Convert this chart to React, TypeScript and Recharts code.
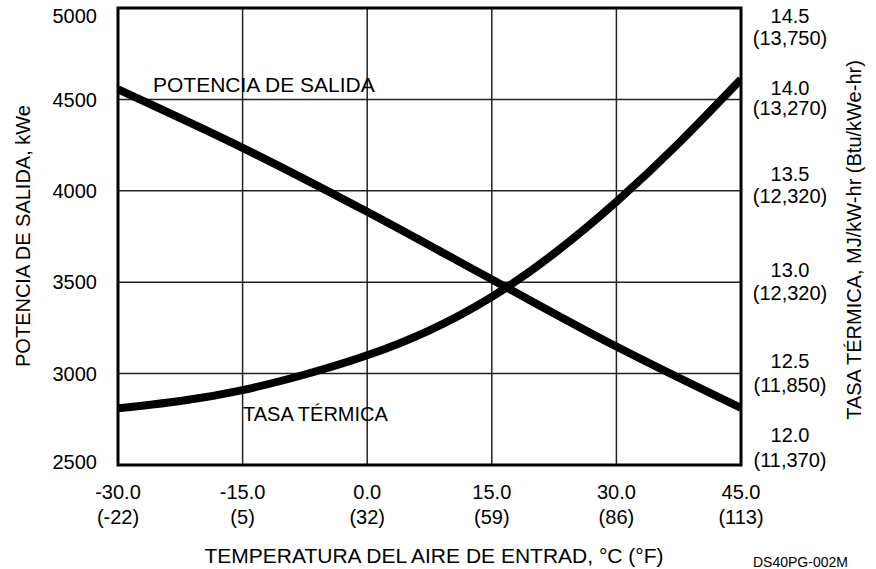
import { ComposedChart, Line, XAxis, YAxis, CartesianGrid, ReferenceArea } from "recharts";

// temperature axis, °C with °F underneath
const xTicks = [-30, -15, 0, 15, 30, 45];
const xTicksF = ["(-22)", "(5)", "(32)", "(59)", "(86)", "(113)"];

// left axis: output power, kWe
const powerTicks = [2500, 3000, 3500, 4000, 4500, 5000];
// right axis: heat rate, MJ/kW-hr with Btu/kWe-hr underneath
const heatTicks = [12.0, 12.5, 13.0, 13.5, 14.0, 14.5];
const heatTicksBtu = ["(11,370)", "(11,850)", "(12,320)", "(12,320)", "(13,270)", "(13,750)"];

// POTENCIA DE SALIDA
const powerTemp = [-30, -15, 0, 15, 30, 45];
const powerKw = [4555, 4235, 3885, 3515, 3148, 2812];

// TASA TÉRMICA
const heatTemp = [-30, -22.5, -15, -7.5, 0, 7.5, 15, 22.5, 30, 37.5, 45];
const heatMj = [12.31, 12.35, 12.41, 12.495, 12.6, 12.737, 12.92, 13.157, 13.44, 13.76, 14.11];

const powerData = powerTemp.map((t, i) => ({ t, power: powerKw[i] }));
const heatData = heatTemp.map((t, i) => ({ t, heat: heatMj[i] }));

const FONT = "'Liberation Sans', Arial, Helvetica, sans-serif";

// label nudges (px) so the end labels stay inside, as in the original
const leftTickShift = [-3, 0, 0, 0, 0, 8];
const rightTickShift = [
  [-30, -5],
  [-13, 11],
  [-12, 11],
  [-17, 5],
  [-12, 8],
  [8, 29.5],
];

function LeftTick(p: any) {
  const i = powerTicks.indexOf(p.payload.value);
  return (
    <text x={p.x - 21} y={p.y + (leftTickShift[i] ?? 0)} dy="0.36em" textAnchor="end" fontSize={20} fill="#000">
      {p.payload.value}
    </text>
  );
}

function RightTick(p: any) {
  const i = heatTicks.indexOf(p.payload.value);
  const [a, b] = rightTickShift[i] ?? [-12, 10];
  return (
    <g>
      <text x={790} y={p.y + a} dy="0.36em" textAnchor="middle" fontSize={20} fill="#000">
        {Number(p.payload.value).toFixed(1)}
      </text>
      <text x={790} y={p.y + b} dy="0.36em" textAnchor="middle" fontSize={20} fill="#000">
        {heatTicksBtu[i]}
      </text>
    </g>
  );
}

function BottomTick(p: any) {
  const i = xTicks.indexOf(p.payload.value);
  return (
    <g>
      <text x={p.x} y={p.y + 26.5} dy="0.36em" textAnchor="middle" fontSize={20} fill="#000">
        {Number(p.payload.value).toFixed(1)}
      </text>
      <text x={p.x} y={p.y + 51.5} dy="0.36em" textAnchor="middle" fontSize={20} fill="#000">
        {xTicksF[i]}
      </text>
    </g>
  );
}

export default function App() {
  return (
    <div style={{ position: "absolute", left: 0, top: 0, width: 876, height: 569, fontFamily: FONT, background: "#fff" }}>
      <ComposedChart width={876} height={569} margin={{ top: 8, right: 0, bottom: 0, left: 0 }}>
        <CartesianGrid yAxisId="left" stroke="#222" strokeWidth={1.5} />
        <XAxis
          type="number"
          dataKey="t"
          domain={[-30, 45]}
          ticks={xTicks}
          interval={0}
          allowDataOverflow
          height={104}
          axisLine={false}
          tickLine={false}
          tickSize={0}
          tickMargin={0}
          tick={(p: any) => <BottomTick {...p} />}
        />
        <YAxis
          yAxisId="left"
          domain={[2500, 5000]}
          ticks={powerTicks}
          interval={0}
          allowDataOverflow
          width={118}
          axisLine={false}
          tickLine={false}
          tickSize={0}
          tickMargin={0}
          tick={(p: any) => <LeftTick {...p} />}
        />
        <YAxis
          yAxisId="right"
          orientation="right"
          domain={[12, 14.5]}
          ticks={heatTicks}
          interval={0}
          allowDataOverflow
          width={135}
          axisLine={false}
          tickLine={false}
          tickSize={0}
          tickMargin={0}
          tick={(p: any) => <RightTick {...p} />}
        />
        <ReferenceArea
          yAxisId="left"
          x1={-30}
          x2={45}
          y1={2500}
          y2={5000}
          fill="none"
          fillOpacity={0}
          stroke="#000"
          strokeWidth={3}
          ifOverflow="visible"
        />
        <Line
          yAxisId="left"
          data={powerData}
          dataKey="power"
          type="monotone"
          stroke="#000"
          strokeWidth={8}
          dot={false}
          activeDot={false}
          isAnimationActive={false}
        />
        <Line
          yAxisId="right"
          data={heatData}
          dataKey="heat"
          type="natural"
          stroke="#000"
          strokeWidth={8}
          dot={false}
          activeDot={false}
          isAnimationActive={false}
        />
      </ComposedChart>
      <svg
        width={876}
        height={569}
        style={{ position: "absolute", left: 0, top: 0, pointerEvents: "none", fontFamily: FONT }}
      >
        <text x={153} y={92} fontSize={21} fill="#000">POTENCIA DE SALIDA</text>
        <text x={243} y={421} fontSize={20} fill="#000">TASA TÉRMICA</text>
        <text x={23} y={236} fontSize={20} fill="#000" textAnchor="middle" dominantBaseline="central" transform="rotate(-90 23 236)">
          POTENCIA DE SALIDA, kWe
        </text>
        <text x={854} y={240} fontSize={20} fill="#000" textAnchor="middle" dominantBaseline="central" transform="rotate(-90 854 240)">
          TASA TÉRMICA, MJ/kW-hr (Btu/kWe-hr)
        </text>
        <text x={434} y={555} fontSize={21} fill="#000" textAnchor="middle" dominantBaseline="central">
          TEMPERATURA DEL AIRE DE ENTRAD, °C (°F)
        </text>
        <text x={753} y={567} fontSize={14} fill="#000">DS40PG-002M</text>
      </svg>
    </div>
  );
}
